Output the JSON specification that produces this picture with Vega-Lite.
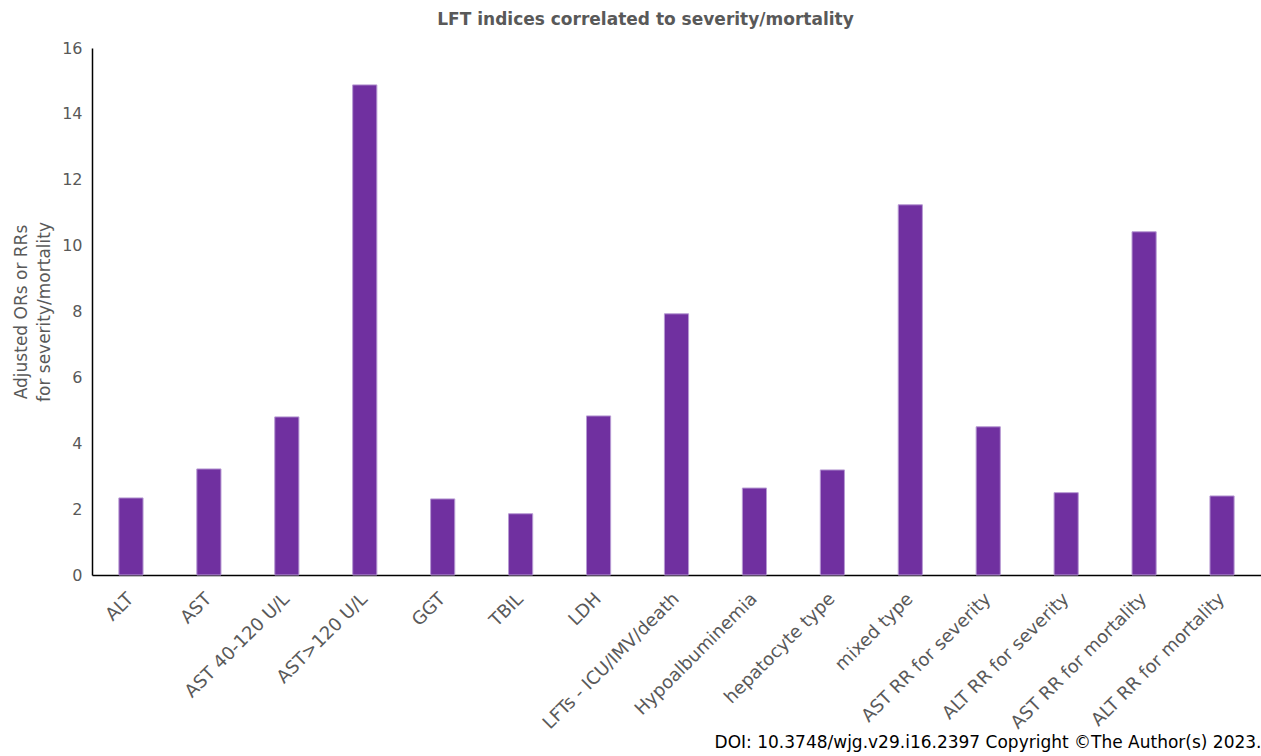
{
  "$schema": "https://vega.github.io/schema/vega-lite/v6.json",
  "autosize": {"type": "none"},
  "padding": {"left": 92, "top": 48, "right": 0, "bottom": 181},
  "width": 1169,
  "height": 527,
  "background": "white",
  "title": {
    "text": "LFT indices correlated to severity/mortality",
    "font": "DejaVu Sans",
    "fontSize": 17,
    "fontWeight": "bold",
    "color": "#595959",
    "anchor": "middle",
    "dx": -31,
    "offset": 11
  },
  "data": {
    "values": [
      {"index": "ALT", "value": 2.34},
      {"index": "AST", "value": 3.22},
      {"index": "AST 40-120 U/L", "value": 4.8},
      {"index": "AST>120 U/L", "value": 14.88},
      {"index": "GGT", "value": 2.31},
      {"index": "TBIL", "value": 1.86},
      {"index": "LDH", "value": 4.83},
      {"index": "LFTs - ICU/IMV/death", "value": 7.93},
      {"index": "Hypoalbuminemia", "value": 2.64},
      {"index": "hepatocyte type", "value": 3.19},
      {"index": "mixed type", "value": 11.24},
      {"index": "AST RR for severity", "value": 4.5},
      {"index": "ALT RR for severity", "value": 2.5},
      {"index": "AST RR for mortality", "value": 10.42},
      {"index": "ALT RR for mortality", "value": 2.4}
    ]
  },
  "mark": {"type": "bar", "color": "#7030A0", "stroke": "#B79AD3", "strokeWidth": 1},
  "encoding": {
    "x": {
      "field": "index",
      "type": "nominal",
      "sort": null,
      "scale": {"paddingInner": 0.69, "paddingOuter": 0.345},
      "axis": {
        "title": "DOI: 10.3748/wjg.v29.i16.2397 Copyright ©The Author(s) 2023.",
        "titleFont": "DejaVu Sans",
        "titleFontSize": 17,
        "titleFontWeight": "normal",
        "titleColor": "#000000",
        "titleAnchor": "end",
        "titleAlign": "right",
        "titleBaseline": "alphabetic",
        "titleX": 1169,
        "titleY": 172,
        "labelAngle": -45,
        "labelAlign": "right",
        "labelBaseline": "middle",
        "labelFont": "DejaVu Sans",
        "labelFontSize": 18,
        "labelColor": "#595959",
        "labelPadding": 21,
        "labelLimit": 300,
        "ticks": false,
        "domainColor": "#000000",
        "domainWidth": 1.5
      }
    },
    "y": {
      "field": "value",
      "type": "quantitative",
      "scale": {"domain": [0, 16], "nice": false},
      "axis": {
        "values": [0, 2, 4, 6, 8, 10, 12, 14, 16],
        "title": ["Adjusted ORs or RRs", "for severity/mortality"],
        "titleFont": "DejaVu Sans",
        "titleFontSize": 17,
        "titleFontWeight": "normal",
        "titleColor": "#595959",
        "titleLineHeight": 23,
        "titlePadding": 8,
        "labelFont": "DejaVu Sans",
        "labelFontSize": 16,
        "labelColor": "#595959",
        "labelPadding": 10,
        "ticks": false,
        "grid": false,
        "domainColor": "#000000",
        "domainWidth": 1.5
      }
    }
  },
  "config": {"view": {"stroke": null}}
}
